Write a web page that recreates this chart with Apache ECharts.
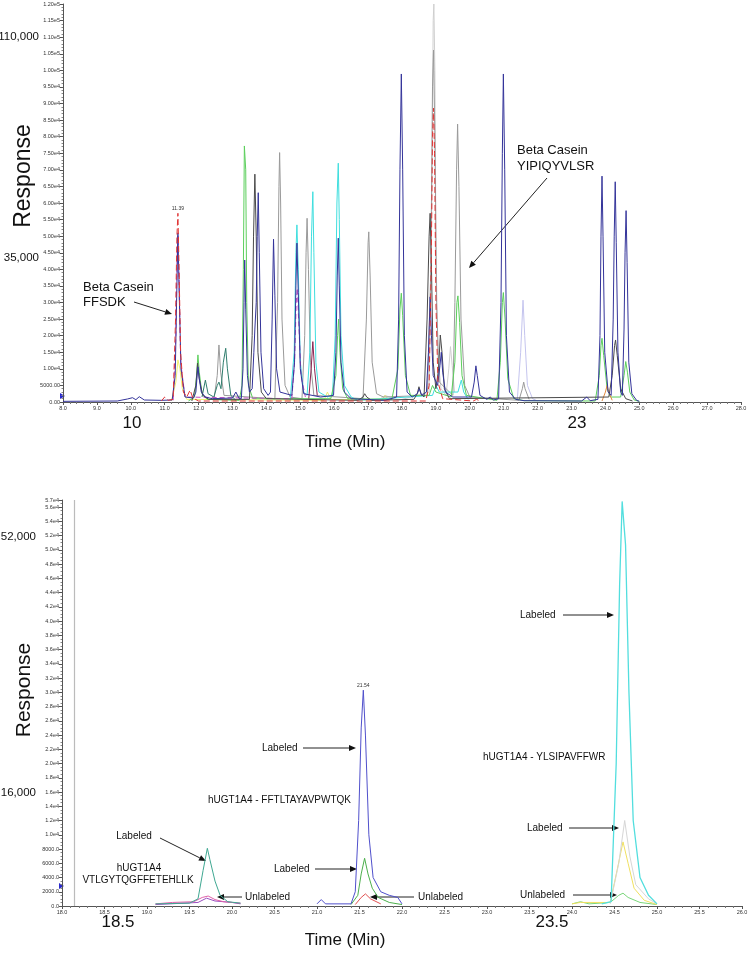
<!DOCTYPE html>
<html><head><meta charset="utf-8">
<script src="https://cdn.jsdelivr.net/npm/echarts@6/dist/echarts.min.js"></script>
<style>html,body{margin:0;padding:0;background:#fff}#c{width:752px;height:955px}</style>
</head><body><div id="c"></div>
<script>
// ---------- Top chromatogram (Time min, Response) ----------
const topNavy = [[8.0,200],[9.6,300],[9.9,900],[10.05,1300],[10.15,700],[10.25,1600],[10.4,600],[10.9,500],
 [11.22,600],[11.31,8000],[11.35,30000],[11.39,51000],[11.43,32000],[11.48,10000],[11.6,1500],
 [11.85,1200],[11.92,3000],[11.95,7000],[11.98,10600],[12.02,7000],[12.08,3000],[12.2,1500],[12.4,1000],
 [13.0,1200],[13.1,3000],[13.2,1000],[13.26,1000],[13.31,10000],[13.34,30000],[13.36,42800],[13.39,28000],[13.44,8000],[13.5,3000],
 [13.58,4000],[13.63,15000],[13.66,22000],[13.7,30000],[13.73,50000],[13.76,63100],[13.79,45000],[13.84,15000],[13.92,4000],[14.05,2000],
 [14.12,3000],[14.17,25000],[14.21,49100],[14.25,32000],[14.3,10000],[14.4,3000],
 [14.75,2000],[14.83,12000],[14.87,35000],[14.9,47900],[14.94,33000],[15.0,10000],[15.1,2500],[15.6,1500],
 [15.98,2000],[16.05,15000],[16.09,38000],[16.12,49400],[16.15,35000],[16.2,12000],[16.3,3000],[16.5,1000],[17.5,500],
 [17.84,1500],[17.9,25000],[17.94,70000],[17.98,98900],[18.02,70000],[18.07,20000],[18.15,3000],[18.3,1500],
 [18.45,2500],[18.51,4000],[18.58,2000],[18.72,3000],[18.78,15000],[18.83,31700],[18.87,20000],[18.92,8000],
 [19.05,5000],[19.12,11000],[19.16,15000],[19.2,9000],[19.28,3000],[19.5,1500],
 [20.05,1500],[20.13,6000],[20.18,10900],[20.22,8000],[20.3,2000],[20.5,800],[20.6,1500],[20.7,600],
 [20.85,1000],[20.92,30000],[20.96,75000],[20.99,98900],[21.03,70000],[21.08,20000],[21.17,3000],[21.35,800],[21.6,400],
 [23.3,300],[23.45,1500],[23.55,400],
 [23.78,800],[23.84,20000],[23.87,50000],[23.9,68100],[23.93,50000],[23.98,15000],[24.08,3000],
 [24.17,2000],[24.23,25000],[24.26,50000],[24.29,66400],[24.32,48000],[24.37,15000],[24.45,3000],
 [24.5,2000],[24.55,22000],[24.58,45000],[24.61,57700],[24.64,42000],[24.69,12000],[24.78,2500],[24.92,500],[25.0,200]];
const topGreen = [[11.7,300],[11.88,1500],[11.94,8000],[11.98,14200],[12.02,9000],[12.1,2500],[12.25,800],
 [13.2,500],[13.28,5000],[13.32,40000],[13.35,77200],[13.39,70000],[13.42,30000],[13.47,5000],[13.6,1000],
 [15.9,1000],[16.05,8000],[16.1,20000],[16.13,25000],[16.17,15000],[16.25,4000],[16.4,1000],
 [17.7,800],[17.88,10000],[17.94,28000],[17.98,32800],[18.02,26000],[18.1,8000],[18.25,2000],
 [18.8,2000],[18.9,5000],[19.0,3000],
 [19.45,1500],[19.56,12000],[19.62,30000],[19.65,32000],[19.7,24000],[19.77,8000],[19.9,2000],
 [20.8,500],[20.9,12000],[20.96,30000],[20.99,33000],[21.04,25000],[21.12,7000],[21.3,1000],[21.6,400],
 [23.7,300],[23.82,8000],[23.87,17000],[23.9,19200],[23.95,14000],[24.05,4000],[24.15,1500],
 [24.45,1500],[24.55,8000],[24.6,12200],[24.65,9000],[24.72,3000],[24.85,600],[25.0,200]];
const topDarkGray = [[11.8,300],[11.92,5000],[11.97,11700],[12.02,7000],[12.12,2000],[12.3,800],
 [13.5,800],[13.58,20000],[13.62,50000],[13.66,68700],[13.7,50000],[13.75,15000],[13.85,3000],[14.0,1000],
 [16.7,500],[16.85,1500],[16.9,2500],[16.96,1500],[17.1,500],
 [18.35,800],[18.45,2500],[18.5,4600],[18.56,2500],[18.65,1500],[18.74,25000],[18.8,50000],[18.83,56900],[18.87,40000],[18.92,12000],
 [19.0,4000],[19.08,10000],[19.13,20200],[19.18,15000],[19.25,4000],[19.4,1000],
 [24.1,1500],[24.2,8000],[24.27,17000],[24.3,18700],[24.35,14000],[24.45,4000],[24.6,1000],[24.8,300]];
const topGray = [[12.45,500],[12.55,8000],[12.6,17200],[12.65,9000],[12.75,2000],
 [14.25,1000],[14.33,30000],[14.37,65000],[14.39,75200],[14.42,60000],[14.46,25000],[14.55,5000],[14.7,1500],
 [15.05,1000],[15.13,20000],[15.17,45000],[15.2,55400],[15.24,40000],[15.3,12000],[15.4,2000],
 [16.85,1000],[16.95,25000],[17.0,48000],[17.02,51300],[17.06,38000],[17.12,12000],[17.25,2500],[17.45,1500],
 [18.75,2000],[18.85,40000],[18.9,95000],[18.93,106100],[18.97,80000],[19.02,30000],[19.1,6000],
 [19.5,2000],[19.56,30000],[19.61,70000],[19.64,83800],[19.68,65000],[19.74,25000],[19.85,5000],[20.0,1500],
 [21.45,500],[21.55,4000],[21.59,6000],[21.63,4000],[21.75,800]];
const topLightGray = [[17.3,500],[17.5,2000],[17.7,1200],[17.9,500],
 [18.8,3000],[18.88,60000],[18.92,115000],[18.94,120000],[18.97,100000],[19.0,50000],[19.05,15000],[19.15,4000],
 [19.3,2000],[19.38,10000],[19.43,16700],[19.48,11000],[19.55,3000]];
const topLavender = [[21.4,500],[21.5,15000],[21.57,30700],[21.62,20000],[21.7,5000],[21.85,1000],[22.0,300]];
const topCyan = [[14.7,500],[14.82,15000],[14.87,45000],[14.9,53400],[14.94,40000],[15.0,12000],[15.1,3000],[15.2,2000],
 [15.28,15000],[15.33,50000],[15.37,63400],[15.4,45000],[15.46,12000],[15.55,3000],[15.8,1500],[15.95,2000],
 [16.03,20000],[16.08,60000],[16.12,72000],[16.15,55000],[16.2,20000],[16.3,5000],[16.5,1500],[16.7,500],
 [18.9,2000],[19.0,5000],[19.1,3000],[19.65,3000],[19.75,6600],[19.82,3000],[19.95,800]];
const topRed = [[10.9,300],[11.0,1500],[11.1,500],[11.25,800],[11.32,25000],[11.36,50000],[11.39,56900],[11.42,42000],[11.47,15000],
 [11.55,3000],[11.65,1500],[11.75,3600],[11.83,1200],[12.0,300],
 [18.7,300],[18.8,5000],[18.86,40000],[18.9,80000],[18.93,88600],[18.96,75000],[19.0,30000],[19.06,6000],[19.2,1000],[20.1,300],[20.2,800],[20.3,300]];
const topOrange = [[23.9,300],[24.0,3000],[24.05,5000],[24.1,3000],[24.2,500]];
const topMagenta = [[11.25,500],[11.33,20000],[11.37,45000],[11.39,50000],[11.42,38000],[11.47,12000],[11.6,1500],
 [14.75,1000],[14.83,12000],[14.88,30000],[14.91,34300],[14.95,25000],[15.02,8000],[15.15,1500]];
const topMaroon = [[15.25,1000],[15.32,10000],[15.37,18200],[15.42,10000],[15.5,2000]];
const topYellow = [[11.2,300],[11.33,6000],[11.39,12700],[11.45,10000],[11.52,4000],[11.65,800],
 [15.7,500],[15.8,3000],[15.9,800],[17.4,500],[17.5,2000],[17.6,800]];
const topTeal = [[12.1,1500],[12.2,6600],[12.28,2500],[12.45,1500],[12.55,5000],[12.6,6000],[12.66,4000],[12.73,12000],
 [12.8,16200],[12.85,10000],[12.95,2000],[13.1,500]];

// ---------- Bottom chromatogram ----------
const botNavy = [[21.0,300],[21.05,900],[21.1,300],[21.4,300],[21.45,2000],[21.49,12000],[21.52,25000],[21.545,30300],
 [21.57,24000],[21.61,10000],[21.66,4000],[21.75,2000],[21.85,1500],[21.95,1200],[22.0,300]];
const botTeal = [[19.1,300],[19.5,400],[19.6,1000],[19.66,5000],[19.71,8100],[19.74,6500],[19.8,3500],[19.86,1500],[19.95,600],[20.1,400]];
const botGreen = [[21.4,200],[21.48,1500],[21.52,4500],[21.56,6700],[21.6,4500],[21.65,2500],[21.72,1200],[21.85,500],[22.0,200]];
const botPink = [[19.1,300],[19.3,500],[19.55,600],[19.65,1200],[19.72,1400],[19.8,900],[19.9,600],[20.1,400]];
const botPurple = [[19.1,200],[19.6,500],[19.7,1100],[19.8,700],[20.0,500],[20.1,300]];
const botRed = [[21.45,200],[21.52,1200],[21.57,1700],[21.63,1000],[21.75,300]];
const botCyan = [[24.35,300],[24.46,600],[24.52,20000],[24.56,45000],[24.59,56800],[24.63,50700],[24.67,30000],[24.72,12000],[24.8,4000],[24.9,1500],[25.0,300]];
const botLightGray = [[24.45,300],[24.55,6000],[24.62,12000],[24.68,7000],[24.75,3000],[24.9,1000],[25.0,300]];
const botYellow = [[24.0,300],[24.1,500],[24.45,500],[24.53,5000],[24.6,9000],[24.66,6000],[24.73,2500],[24.85,800],[25.0,200]];
const botGreen2 = [[24.0,300],[24.1,600],[24.2,300],[24.45,500],[24.55,1500],[24.6,1800],[24.66,1200],[24.8,500],[25.0,200]];
const botMarkerTime = 18.14;

const FONT = 'Liberation Sans, Arial, sans-serif';
const chart = echarts.init(document.getElementById('c'), null, {renderer:'canvas'});

function ln(data, color, xi, extra){
  return Object.assign({type:'line', data:data, xAxisIndex:xi, yAxisIndex:xi, showSymbol:false, symbol:'none',
    animation:false, silent:true, lineStyle:{width:1, color:color}, itemStyle:{color:color}, z:2}, extra||{});
}
const topFmt = v => v===0 ? '0.00' : (v<10000 ? v.toFixed(2) : v.toExponential(2).replace('+',''));
const botFmt = v => v===0 ? '0.0' : (v<10000 ? v.toFixed(1) : v.toExponential(1).replace('+',''));
const lbl = {fontSize:5.5, color:'#333', fontFamily:FONT};

function txt(x,y,s,size,align,extra){
  return Object.assign({type:'text', x:x, y:y, style:{text:s, fontSize:size, fontFamily:FONT, fill:'#111', align:align||'left', verticalAlign:'middle'}}, extra||{});
}
function arrow(x1,y1,x2,y2){
  const a = Math.atan2(y2-y1,x2-x1), L=7, W=3;
  const bx = x2 - L*Math.cos(a), by = y2 - L*Math.sin(a);
  const px = -Math.sin(a)*W, py = Math.cos(a)*W;
  return [{type:'line', shape:{x1:x1,y1:y1,x2:bx,y2:by}, style:{stroke:'#222', lineWidth:1}},
          {type:'polygon', shape:{points:[[x2,y2],[bx+px,by+py],[bx-px,by-py]]}, style:{fill:'#111'}}];
}

const graphics = [
  txt(39,37,'110,000',11.5,'right'), txt(39,258,'35,000',11.5,'right'),
  {type:'text', x:24, y:176, rotation:Math.PI/2, style:{text:'Response', fontSize:23, fontFamily:FONT, fill:'#111', align:'center', verticalAlign:'middle'}},
  txt(132,423,'10',17,'center'), txt(577,423,'23',17,'center'), txt(345,442,'Time (Min)',17,'center'),
  txt(83,287,'Beta Casein',13), txt(83,302,'FFSDK',13),
  txt(517,150,'Beta Casein',13), txt(517,166,'YIPIQYVLSR',13),
  ...arrow(134,302,172,314), ...arrow(547,178,469,268),
  txt(36,537,'52,000',11.5,'right'), txt(36,793,'16,000',11.5,'right'),
  {type:'text', x:24, y:690, rotation:Math.PI/2, style:{text:'Response', fontSize:21, fontFamily:FONT, fill:'#111', align:'center', verticalAlign:'middle'}},
  txt(118,922,'18.5',17,'center'), txt(552,922,'23.5',17,'center'), txt(345,940,'Time (Min)',17,'center'),
  txt(134,836,'Labeled',10,'center'), txt(139,868,'hUGT1A4',10,'center'), txt(138,880,'VTLGYTQGFFETEHLLK',10,'center'),
  txt(245,897,'Unlabeled',10), txt(262,748,'Labeled',10), txt(208,800,'hUGT1A4 - FFTLTAYAVPWTQK',10),
  txt(274,869,'Labeled',10), txt(418,897,'Unlabeled',10),
  txt(520,615,'Labeled',10), txt(483,757,'hUGT1A4 - YLSIPAVFFWR',10), txt(527,828,'Labeled',10), txt(520,895,'Unlabeled',10),
  ...arrow(160,838,206,861), ...arrow(242,897,217,897), ...arrow(303,748,356,748), ...arrow(315,869,357,869),
  ...arrow(414,897,370,897), ...arrow(563,615,614,615), ...arrow(569,828,619,828), ...arrow(573,895,617,895),
  {type:'polygon', shape:{points:[[60,393],[65,396],[60,399]]}, style:{fill:'#2a2acc'}},
  {type:'polygon', shape:{points:[[59,883],[64,886],[59,889]]}, style:{fill:'#2a2acc'}}
];

const option = {
  animation:false,
  backgroundColor:'#fff',
  grid:[{left:63, right:11, top:4, bottom:553}, {left:62, right:10, top:500, bottom:49}],
  xAxis:[
    {type:'value', gridIndex:0, min:8, max:28, interval:1,
     axisLine:{lineStyle:{color:'#555', width:1}}, axisTick:{length:3, lineStyle:{color:'#555'}},
     minorTick:{show:true, splitNumber:5, length:2, lineStyle:{color:'#777'}},
     splitLine:{show:false}, axisLabel:Object.assign({formatter:v=>v.toFixed(1), margin:3}, lbl)},
    {type:'value', gridIndex:1, min:18, max:26, interval:0.5,
     axisLine:{lineStyle:{color:'#555', width:1}}, axisTick:{length:3, lineStyle:{color:'#555'}},
     minorTick:{show:true, splitNumber:5, length:2, lineStyle:{color:'#777'}},
     splitLine:{show:false}, axisLabel:Object.assign({formatter:v=>v.toFixed(1), margin:3}, lbl)}
  ],
  yAxis:[
    {type:'value', gridIndex:0, min:0, max:120000, interval:5000,
     axisLine:{show:true, lineStyle:{color:'#555', width:1}}, axisTick:{show:true, length:3, lineStyle:{color:'#555'}},
     minorTick:{show:true, splitNumber:5, length:1.5, lineStyle:{color:'#888'}},
     splitLine:{show:false}, axisLabel:Object.assign({formatter:topFmt, margin:3}, lbl)},
    {type:'value', gridIndex:1, min:0, max:57000, interval:2000,
     axisLine:{show:true, lineStyle:{color:'#555', width:1}}, axisTick:{show:true, length:3, lineStyle:{color:'#555'}},
     minorTick:{show:true, splitNumber:4, length:1.5, lineStyle:{color:'#888'}},
     splitLine:{show:false}, axisLabel:Object.assign({formatter:botFmt, margin:3, showMaxLabel:true}, lbl)}
  ],
  series:[
    ln(topLightGray,'#cfcfcf',0), ln(topLavender,'#c4c4ee',0), ln(topYellow,'#eeee70',0),
    ln(topGray,'#9a9a9a',0), ln(topCyan,'#3fdede',0), ln(topGreen,'#5ccf5c',0),
    ln(topTeal,'#2f7d6d',0), ln(topMagenta,'#c24fc2',0, {lineStyle:{width:1,color:'#c24fc2',type:[5,3]}}),
    ln(topMaroon,'#8c2452',0), ln(topOrange,'#e08a40',0), ln(topDarkGray,'#4a4a4a',0),
    ln(topNavy,'#34349a',0),
    ln(topRed,'#e03434',0, {lineStyle:{width:1,color:'#e03434',type:[6,3]},
       markPoint:{symbol:'circle', symbolSize:0.1, silent:true, data:[{coord:[11.39,56900], value:'11.39'}],
         label:{show:true, position:'top', distance:2, formatter:'11.39', fontSize:5, color:'#333', fontFamily:FONT}}}),
    ln(botPurple,'#9a50c0',1), ln(botPink,'#e060a8',1), ln(botTeal,'#3fa892',1),
    ln(botRed,'#e05050',1), ln(botGreen,'#4caf4c',1),
    ln(botNavy,'#5050cc',1, {markPoint:{symbol:'circle', symbolSize:0.1, silent:true, data:[{coord:[21.545,30300], value:'21.54'}],
         label:{show:true, position:'top', distance:2, formatter:'21.54', fontSize:5, color:'#333', fontFamily:FONT}},
       markLine:{symbol:'none', silent:true, label:{show:false}, lineStyle:{color:'#bbbbbb', type:'solid', width:1.2},
         data:[{xAxis:botMarkerTime}]}}),
    ln(botGreen2,'#7ad67a',1), ln(botYellow,'#f0e060',1), ln(botLightGray,'#d6d6d6',1),
    ln(botCyan,'#52dede',1, {lineStyle:{width:1.3,color:'#52dede'}})
  ],
  graphic:graphics
};
chart.setOption(option);
</script>
</body></html>
